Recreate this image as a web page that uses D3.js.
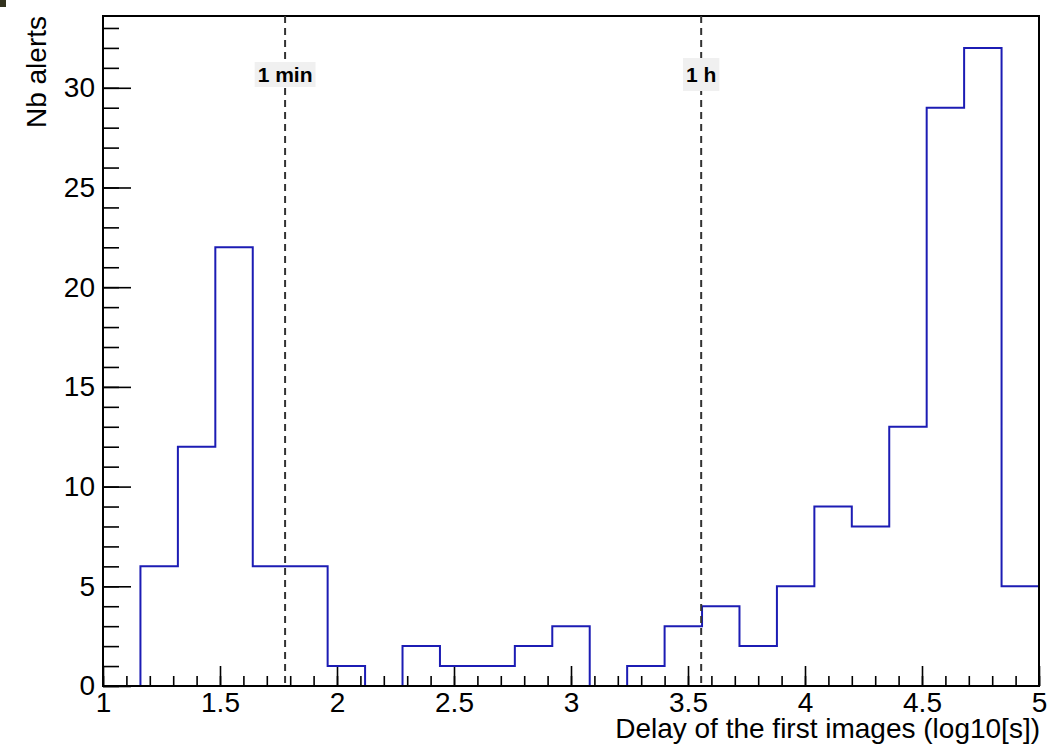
<!DOCTYPE html>
<html>
<head>
<meta charset="utf-8" />
<title>Delay of the first images</title>
<style>
body { margin: 0; background: #fff; }
svg text { font-family: "Liberation Sans", Arial, Helvetica, sans-serif; }
</style>
</head>
<body>
<div id="graph"></div>
<script src="https://d3js.org/d3.v7.min.js"></script>
<script>
// histogram bins (log10 of delay in seconds)
var binLow  = [1.00, 1.16, 1.32, 1.48, 1.64, 1.80, 1.96, 2.12, 2.28, 2.44, 2.60, 2.76, 2.92,
               3.08, 3.24, 3.40, 3.56, 3.72, 3.88, 4.04, 4.20, 4.36, 4.52, 4.68, 4.84];
var binHigh = [1.16, 1.32, 1.48, 1.64, 1.80, 1.96, 2.12, 2.28, 2.44, 2.60, 2.76, 2.92, 3.08,
               3.24, 3.40, 3.56, 3.72, 3.88, 4.04, 4.20, 4.36, 4.52, 4.68, 4.84, 5.00];
var counts  = [0, 6, 12, 22, 6, 6, 1, 0, 2, 1, 1, 2, 3,
               0, 1, 3, 4, 2, 5, 9, 8, 13, 29, 32, 5];

var xTicks = [1, 1.5, 2, 2.5, 3, 3.5, 4, 4.5, 5];
var xTickLabels = ["1", "1.5", "2", "2.5", "3", "3.5", "4", "4.5", "5"];
var yTicks = [0, 5, 10, 15, 20, 25, 30];

// reference lines
var markerNames = ["1 min", "1 h"];
var markerValues = [Math.log10(60), Math.log10(3600)];

var width = 1061, height = 744;
var mLeft = 103, mRight = 1039, mTop = 16, mBottom = 686;

var svg = d3.select("#graph").append("svg")
    .attr("width", width)
    .attr("height", height);

svg.append("rect").attr("x", 0).attr("y", 0).attr("width", 6).attr("height", 7)
    .attr("fill", "#33331f");

var x = d3.scaleLinear().domain([1, 5]).range([mLeft, mRight]);
var y = d3.scaleLinear().domain([0, 33.6]).range([mBottom, mTop]);

// minor ticks
var xMinor = d3.range(10, 51).map(function(d) { return d / 10; });
var yMinor = d3.range(0, 34);

svg.append("g")
    .attr("transform", "translate(0," + mBottom + ")")
    .call(d3.axisBottom(x).tickValues(xMinor).tickSize(-10).tickFormat(""))
    .call(function(g) { g.select(".domain").remove(); })
    .selectAll("line").attr("stroke", "#000").attr("stroke-width", 1.6);

svg.append("g")
    .attr("transform", "translate(" + mLeft + ",0)")
    .call(d3.axisLeft(y).tickValues(yMinor).tickSize(-16).tickFormat(""))
    .call(function(g) { g.select(".domain").remove(); })
    .selectAll("line").attr("stroke", "#000").attr("stroke-width", 1.6);

// major ticks with labels
var xAxis = svg.append("g")
    .attr("transform", "translate(0," + mBottom + ")")
    .call(d3.axisBottom(x).tickValues(xTicks).tickSize(-20).tickPadding(6)
        .tickFormat(function(d, i) { return xTickLabels[i]; }));
xAxis.select(".domain").remove();
xAxis.selectAll("line").attr("stroke", "#000").attr("stroke-width", 1.6);
xAxis.selectAll("text").attr("font-size", 28).attr("fill", "#000")
    .attr("font-family", "'Liberation Sans', Arial, sans-serif");

var yAxis = svg.append("g")
    .attr("transform", "translate(" + mLeft + ",0)")
    .call(d3.axisLeft(y).tickValues(yTicks).tickSize(-28).tickPadding(8));
yAxis.select(".domain").remove();
yAxis.selectAll("line").attr("stroke", "#000").attr("stroke-width", 1.6);
yAxis.selectAll("text").attr("font-size", 28).attr("fill", "#000")
    .attr("font-family", "'Liberation Sans', Arial, sans-serif");

// histogram outline
var pts = [];
counts.forEach(function(c, i) {
    pts.push([binLow[i], c]);
    pts.push([binHigh[i], c]);
});
var line = d3.line()
    .x(function(d) { return x(d[0]); })
    .y(function(d) { return y(d[1]); });
svg.append("path")
    .attr("d", line(pts))
    .attr("fill", "none")
    .attr("stroke", "#1c1cb4")
    .attr("stroke-width", 2);

// frame
svg.append("rect")
    .attr("x", mLeft).attr("y", mTop)
    .attr("width", mRight - mLeft).attr("height", mBottom - mTop)
    .attr("fill", "none").attr("stroke", "#000").attr("stroke-width", 2);

// dashed markers
markerValues.forEach(function(v, i) {
    var mx = x(v);
    svg.append("line")
        .attr("x1", mx).attr("x2", mx)
        .attr("y1", mTop).attr("y2", mBottom)
        .attr("stroke", "#333").attr("stroke-width", 2)
        .attr("stroke-dasharray", "7,5");

    var g = svg.append("g");
    var t = g.append("text")
        .attr("x", mx).attr("y", 82)
        .attr("text-anchor", "middle")
        .attr("font-size", 21)
        .attr("font-weight", "bold")
        .attr("fill", "#000")
        .text(markerNames[i]);
    var bb = t.node().getBBox();
    var padY = i === 0 ? 3 : 7;
    g.insert("rect", "text")
        .attr("x", bb.x - 3).attr("y", bb.y - padY + 2)
        .attr("width", bb.width + 6).attr("height", bb.height + padY * 2 - 4)
        .attr("fill", "#f0f0f0");
});

// axis titles
svg.append("text")
    .attr("x", mRight + 1).attr("y", 738)
    .attr("text-anchor", "end")
    .attr("font-size", 28)
    .attr("fill", "#000")
    .text("Delay of the first images (log10[s])");

svg.append("text")
    .attr("transform", "translate(46," + mTop + ") rotate(-90)")
    .attr("text-anchor", "end")
    .attr("font-size", 28)
    .attr("fill", "#000")
    .text("Nb alerts");
</script>
</body>
</html>
